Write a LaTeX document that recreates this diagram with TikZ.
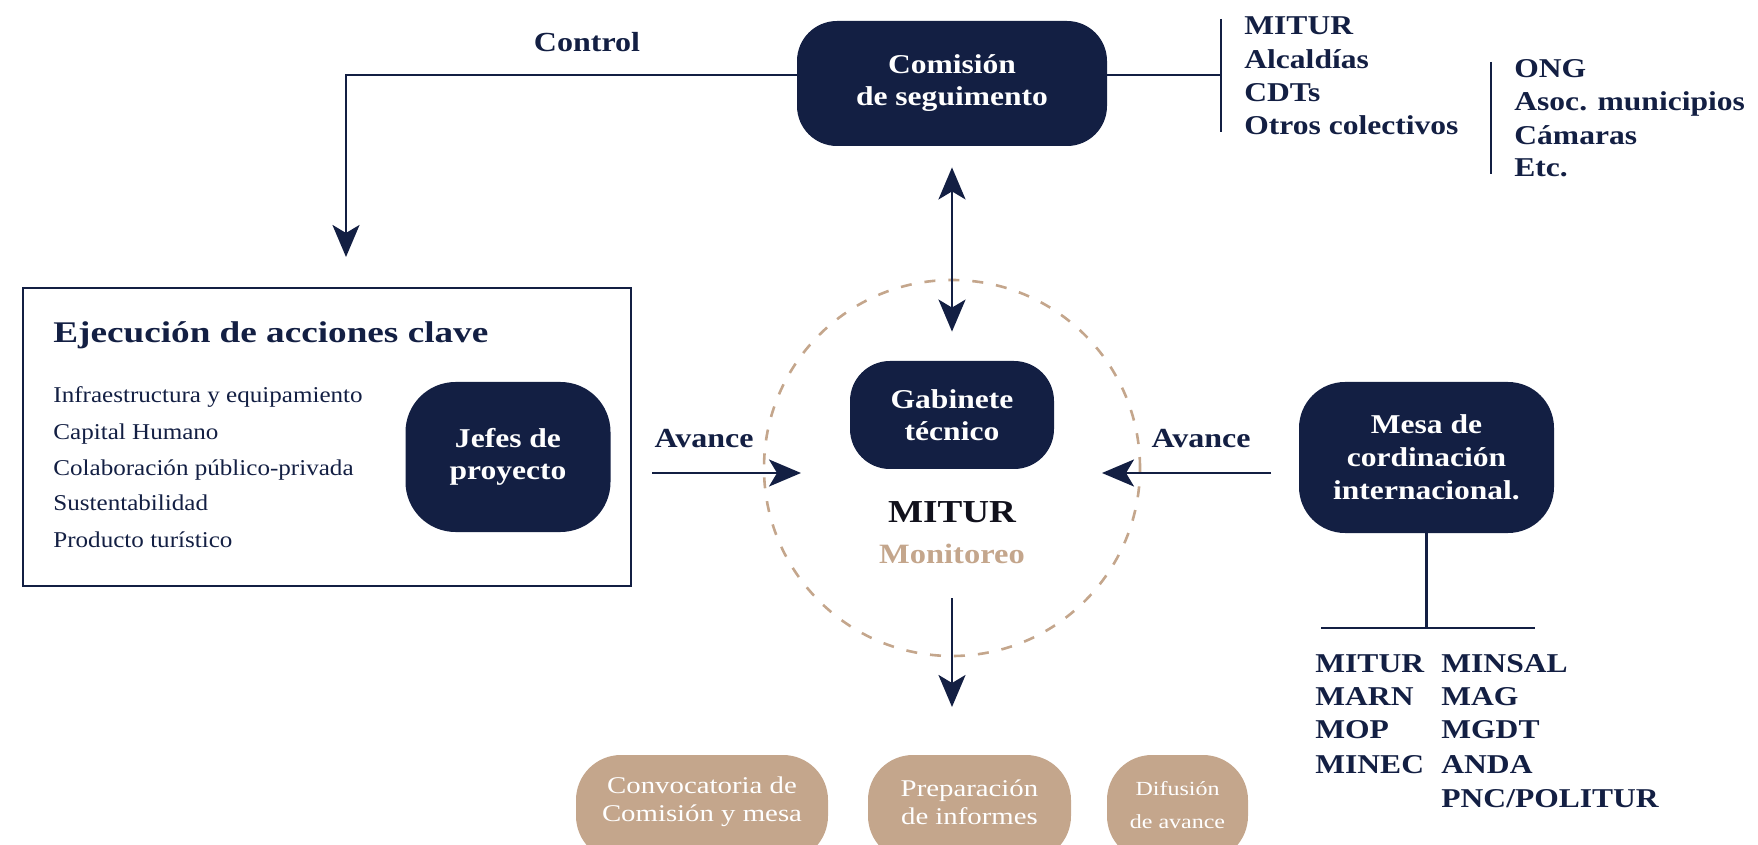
\documentclass[tikz,border=0pt]{standalone}
\usepackage{fontspec}
\setmainfont{Liberation Serif}[UprightFeatures={FakeStretch=1.11},BoldFeatures={FakeStretch=1.16}]
\newfontfamily\titlefont{Liberation Serif}[BoldFeatures={FakeStretch=1.24}]
\newfontfamily\widefont{Liberation Serif}[UprightFeatures={FakeStretch=1.2}]
\usetikzlibrary{arrows.meta}
\definecolor{navy}{RGB}{19,31,67}
\definecolor{tanc}{RGB}{196,166,140}
\definecolor{ink}{RGB}{17,17,28}
\newcommand\fsz[2]{\fontsize{#1}{#2}\selectfont}
\tikzset{
  navybox/.style={fill=navy,text=white,font=\bfseries\fsz{13.6pt}{16pt},align=center,inner sep=0pt},
  tanbox/.style={fill=tanc,inner sep=0pt,minimum height=53pt,rounded corners=22.5pt},
  tantext/.style={text=white,align=center,inner sep=0pt},
  conn/.style={draw=navy,line width=1.3pt},
  tip/.tip={Stealth[length=16pt,width=13.5pt,inset=4pt]},
  arr/.style={conn,-tip},
  dual/.style={conn,tip-tip},
  lbl/.style={text=navy,font=\bfseries\fsz{13.6pt}{16pt},anchor=base west,inner sep=0pt},
  itemtxt/.style={text=navy,font=\fsz{11.3pt}{13pt},anchor=base west,inner sep=0pt},
  midlbl/.style={text=navy,font=\bfseries\fsz{13.8pt}{16pt},anchor=base,inner sep=0pt}
}
\begin{document}
\begin{tikzpicture}[x=0.5pt,y=-0.5pt]
\useasboundingbox (0,0) rectangle (1758,845);
\clip (0,0) rectangle (1758,845);

% dashed monitoring circle
\node[draw=tanc,circle,line width=1.3pt,dash pattern=on 5.5pt off 6.5pt,minimum size=188pt,inner sep=0pt] (mon) at (952,468) {};

% main boxes
\node[navybox,minimum width=155pt,minimum height=62.5pt,rounded corners=20pt] (com) at (952,83.5) {Comisión\\de seguimento};
\node[navybox,minimum width=102pt,minimum height=54pt,rounded corners=20pt] (gab) at (952,415) {Gabinete\\técnico};
\node[draw=navy,line width=1.3pt,minimum width=304pt,minimum height=149pt,inner sep=0pt] (eje) at (327,437) {};
\node[navybox,minimum width=102.5pt,minimum height=75pt,rounded corners=25pt] (jef) at (508,457) {Jefes de\\proyecto};
\node[navybox,minimum width=127.5pt,minimum height=75.5pt,rounded corners=23pt,font=\bfseries\fsz{13.6pt}{16.5pt}] (mesa) at (1426.5,457.5) {Mesa de\\cordinación\\internacional.};

% Ejecucion contents
\node[text=navy,font=\titlefont\bfseries\fsz{15pt}{18pt},anchor=base west,inner sep=0pt] (ejt) at (53,343) {Ejecución de acciones clave};
\node[itemtxt] (e1) at (53,403) {Infraestructura y equipamiento};
\node[itemtxt] (e2) at (53,440) {Capital Humano};
\node[itemtxt] (e3) at (53,475) {Colaboración público-privada};
\node[itemtxt] (e4) at (53,510) {Sustentabilidad};
\node[itemtxt] (e5) at (53,547) {Producto turístico};

% centre texts
\node[text=ink,font=\bfseries\fsz{16pt}{18pt},anchor=base,inner sep=0pt] (mit) at (952,523) {MITUR};
\node[text=tanc,font=\bfseries\fsz{14pt}{16pt},anchor=base,inner sep=0pt] (moni) at (952,563) {Monitoreo};

% labels
\node[midlbl] (ctl) at (587,52) {Control};
\node[midlbl] (avl) at (704,448) {Avance};
\node[midlbl] (avr) at (1201,448) {Avance};

% Control connector
\coordinate (ctrlend) at (346,257);
\coordinate (cw) at ([yshift=4.25pt]com.west);
\draw[arr] (cw) -| (ctrlend);

% Comision members
\coordinate (ce) at ([yshift=4.25pt]com.east);
\coordinate (b1t) at (1221,19);
\coordinate (b1b) at (1221,132);
\draw[conn] (b1t) -- (b1b);
\draw[conn] (ce) -- (ce -| b1t);
\node[lbl] (c1) at (1244,35) {MITUR};
\node[lbl] (c2) at (1244,69) {Alcaldías};
\node[lbl] (c3) at (1244,102) {CDTs};
\node[lbl] (c4) at (1244,135) {Otros colectivos};
\coordinate (b2t) at (1491,62);
\coordinate (b2b) at (1491,174);
\draw[conn] (b2t) -- (b2b);
\node[lbl] (o1) at (1514,78) {ONG};
\node[lbl] (o2) at (1514,111) {Asoc. municipios};
\node[lbl] (o3) at (1514,145) {Cámaras};
\node[lbl] (o4) at (1514,177) {Etc.};

% double arrow
\draw[dual,shorten <=10.5pt,shorten >=14.5pt] (com.south) -- (gab.north);

% Avance arrows
\coordinate (al0) at (652,473);
\coordinate (al1) at (801,473);
\draw[arr] (al0) -- (al1);
\coordinate (ar0) at (1271,473);
\coordinate (ar1) at (1102,473);
\draw[arr] (ar0) -- (ar1);

% down arrow
\coordinate (d0) at (952,598);
\coordinate (d1) at (952,707);
\draw[arr] (d0) -- (d1);

% Mesa tree
\coordinate (tl) at (1321,628);
\coordinate (tr) at (1535,628);
\draw[conn] (mesa.south) -- (mesa.south |- tl);
\draw[conn] (tl) -- (tr);
\node[lbl] (m1) at (1315,672) {MITUR};
\node[lbl] (m2) at (1315,705) {MARN};
\node[lbl] (m3) at (1315,738) {MOP};
\node[lbl] (m4) at (1315,773) {MINEC};
\node[lbl] (n1) at (1441,672) {MINSAL};
\node[lbl] (n2) at (1441,705) {MAG};
\node[lbl] (n3) at (1441,738) {MGDT};
\node[lbl] (n4) at (1441,773) {ANDA};
\node[lbl] (n5) at (1441,807) {PNC/POLITUR};

% bottom boxes
\node[tanbox,minimum width=126pt] (conv) at (702,808) {};
\node[tantext,font=\widefont\fsz{12pt}{14pt}] (convt) at ([yshift=3pt]conv.center) {Convocatoria de\\Comisión y mesa};
\node[tanbox,minimum width=101.5pt] (prep) at (969.5,808) {};
\node[tantext,font=\widefont\fsz{12pt}{14pt}] (prept) at ([yshift=3pt]prep.center) {Preparación\\de informes};
\node[tanbox,minimum width=70.5pt] (dif) at (1177.5,808) {};
\node[tantext,font=\widefont\fsz{10pt}{16.5pt}] (dift) at ([yshift=1.5pt]dif.center) {Difusión\\de avance};
\end{tikzpicture}
\end{document}
